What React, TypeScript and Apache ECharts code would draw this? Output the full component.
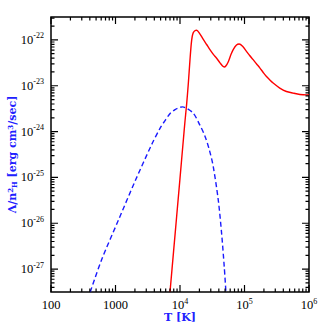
import React, { useEffect, useRef } from "react";
import * as echarts from "echarts";

// log10(T [K]) tick positions and labels
const xMajorTicks = [2, 3, 4, 5, 6];
const xTickLabels = ["100", "1000", "10^4", "10^5", "10^6"];
// log10(Lambda) tick positions and labels
const yMajorTicks = [-27, -26, -25, -24, -23, -22];
const yTickLabels = ["10^-27", "10^-26", "10^-25", "10^-24", "10^-23", "10^-22"];

// Red solid curve: log10 T, log10 Lambda/n_H^2
const redLogT = [3.845, 3.9, 3.95, 4.0, 4.05, 4.077, 4.103, 4.129, 4.155, 4.175, 4.19, 4.206, 4.23, 4.259, 4.3, 4.361, 4.413, 4.464, 4.52, 4.568, 4.62, 4.66, 4.686, 4.71, 4.747, 4.79, 4.825, 4.876, 4.917, 4.97, 5.03, 5.08, 5.134, 5.185, 5.237, 5.29, 5.341, 5.39, 5.444, 5.547, 5.65, 5.753, 5.86, 5.96, 6.0];
const redLogL = [-27.5, -26.62, -25.82, -25.02, -24.21, -23.78, -23.4, -22.95, -22.43, -22.08, -21.92, -21.84, -21.8, -21.79, -21.85, -21.99, -22.1, -22.21, -22.32, -22.4, -22.5, -22.57, -22.59, -22.57, -22.48, -22.32, -22.21, -22.11, -22.09, -22.14, -22.25, -22.34, -22.43, -22.52, -22.61, -22.71, -22.8, -22.87, -22.94, -23.05, -23.125, -23.16, -23.19, -23.2, -23.2];

// Blue dashed curve
const blueLogT = [2.608, 2.789, 3.046, 3.304, 3.562, 3.69, 3.768, 3.85, 3.923, 3.98, 4.04, 4.1, 4.206, 4.309, 4.387, 4.455, 4.515, 4.593, 4.645, 4.686, 4.712];
const blueLogL = [-27.5, -26.78, -25.93, -25.08, -24.28, -23.93, -23.76, -23.6, -23.52, -23.48, -23.46, -23.49, -23.6, -23.86, -24.1, -24.4, -24.76, -25.49, -26.22, -26.95, -27.5];

const X_MIN = 2, X_MAX = 6, Y_MIN = -27.5, Y_MAX = -21.5;

function minorTicks(lo: number, hi: number): number[] {
  const out: number[] = [];
  for (let n = Math.floor(lo) - 1; n <= Math.ceil(hi); n++) {
    for (let k = 2; k <= 9; k++) {
      const v = n + Math.log10(k);
      if (v > lo && v < hi) out.push(v);
    }
  }
  return out;
}

function toRich(label: string): string {
  const i = label.indexOf("^");
  if (i < 0) return "{n|" + label + "}";
  return "{n|" + label.slice(0, i) + "}{s|" + label.slice(i + 1) + "}";
}

const FONT = "'Liberation Serif', serif";
const TITLE_FONT = "'DejaVu Serif', serif";
const BLUE = "#2020ff";

const labelRich = {
  n: { fontFamily: FONT, fontSize: 12.5, color: "#000", lineHeight: 16, verticalAlign: "middle" },
  s: { fontFamily: FONT, fontSize: 8, color: "#000", lineHeight: 9, verticalAlign: "top" },
};

const MAJOR_LEN = 7;
const MINOR_LEN = 3.5;
const TICK_W = 1.2;

export default function App() {
  const ref = useRef<HTMLDivElement>(null);
  useEffect(() => {
    if (!ref.current) return;
    const chart = echarts.init(ref.current, undefined, { renderer: "svg" });
    const xMinor = minorTicks(X_MIN, X_MAX);
    const yMinor = minorTicks(Y_MIN, Y_MAX);

    const lineSeries = [
      {
        type: "line",
        data: blueLogT.map((t, i) => [t, blueLogL[i]]),
        showSymbol: false,
        smooth: 0.3,
        clip: true,
        lineStyle: { color: "#1a1aff", width: 1.4, type: [5, 3] },
      },
      {
        type: "line",
        data: redLogT.map((t, i) => [t, redLogL[i]]),
        showSymbol: false,
        smooth: 0.3,
        clip: true,
        lineStyle: { color: "#ff0000", width: 1.4 },
      },
    ];

    chart.setOption({
      animation: false,
      backgroundColor: "#fff",
      grid: {
        left: 51,
        right: 18,
        top: 17,
        bottom: 35,
        containLabel: false,
        outerBoundsMode: "none",
        show: true,
        borderColor: "#000",
        borderWidth: 1.5,
        backgroundColor: "transparent",
      },
      xAxis: {
        type: "value",
        min: X_MIN,
        max: X_MAX,
        splitLine: { show: false },
        axisLine: { show: false, onZero: false },
        axisTick: { show: false },
        axisLabel: {
          show: true,
          customValues: xMajorTicks,
          margin: 5,
          alignMinLabel: "center",
          alignMaxLabel: "center",
          formatter: (v: number) => toRich(xTickLabels[xMajorTicks.indexOf(v)] ?? ""),
          rich: labelRich,
        },
        name: "T [K]",
        nameLocation: "middle",
        nameGap: 20,
        nameMoveOverlap: false,
        nameTextStyle: { fontFamily: TITLE_FONT, fontWeight: "bold", fontSize: 11, color: BLUE },
      },
      yAxis: {
        type: "value",
        min: Y_MIN,
        max: Y_MAX,
        splitLine: { show: false },
        axisLine: { show: false, onZero: false },
        axisTick: { show: false },
        axisLabel: {
          show: true,
          customValues: yMajorTicks,
          margin: 7,
          formatter: (v: number) => toRich(yTickLabels[yMajorTicks.indexOf(v)] ?? ""),
          rich: labelRich,
        },
        name: "Λ/n{s|2}{h|H} [erg cm{s|3}/sec]",
        nameLocation: "middle",
        nameRotate: 90,
        nameGap: 33,
        nameMoveOverlap: false,
        nameTextStyle: {
          fontFamily: TITLE_FONT,
          fontWeight: "bold",
          fontSize: 11,
          color: BLUE,
          rich: {
            s: { fontFamily: TITLE_FONT, fontWeight: "bold", fontSize: 7, color: BLUE, verticalAlign: "top", lineHeight: 8 },
            h: { fontFamily: TITLE_FONT, fontWeight: "bold", fontSize: 7, color: BLUE, verticalAlign: "bottom", lineHeight: 8 },
          },
        },
      },
      series: lineSeries,
    });

    // pixel scale of the grid, read back from the library, to size the inward tick marks
    const a = chart.convertToPixel({ gridIndex: 0 }, [X_MIN, Y_MIN]) as number[];
    const b = chart.convertToPixel({ gridIndex: 0 }, [X_MAX, Y_MAX]) as number[];
    const ux = (b[0] - a[0]) / (X_MAX - X_MIN);
    const uy = (a[1] - b[1]) / (Y_MAX - Y_MIN);

    // tick marks as short line segments, separated by empty points
    const tickData: any[] = [];
    const addX = (v: number, len: number) => {
      const d = len / uy;
      tickData.push([v, Y_MIN], [v, Y_MIN + d], [v, "-"]);
      tickData.push([v, Y_MAX], [v, Y_MAX - d], [v, "-"]);
    };
    const addY = (v: number, len: number) => {
      const d = len / ux;
      tickData.push([X_MIN, v], [X_MIN + d, v], ["-", v]);
      tickData.push([X_MAX, v], [X_MAX - d, v], ["-", v]);
    };
    xMajorTicks.forEach((v) => addX(v, MAJOR_LEN));
    xMinor.forEach((v) => addX(v, MINOR_LEN));
    yMajorTicks.forEach((v) => addY(v, MAJOR_LEN));
    yMinor.forEach((v) => addY(v, MINOR_LEN));

    chart.setOption({
      series: [
        ...lineSeries,
        {
          type: "line",
          name: "ticks",
          silent: true,
          clip: false,
          showSymbol: false,
          symbol: "none",
          smooth: false,
          connectNulls: false,
          z: 5,
          emphasis: { disabled: true },
          lineStyle: { color: "#000", width: TICK_W, cap: "butt" },
          data: tickData,
        },
      ],
    });
    return () => chart.dispose();
  }, []);
  return <div ref={ref} style={{ position: "fixed", left: 0, top: 0, width: 327, height: 327 }} />;
}
